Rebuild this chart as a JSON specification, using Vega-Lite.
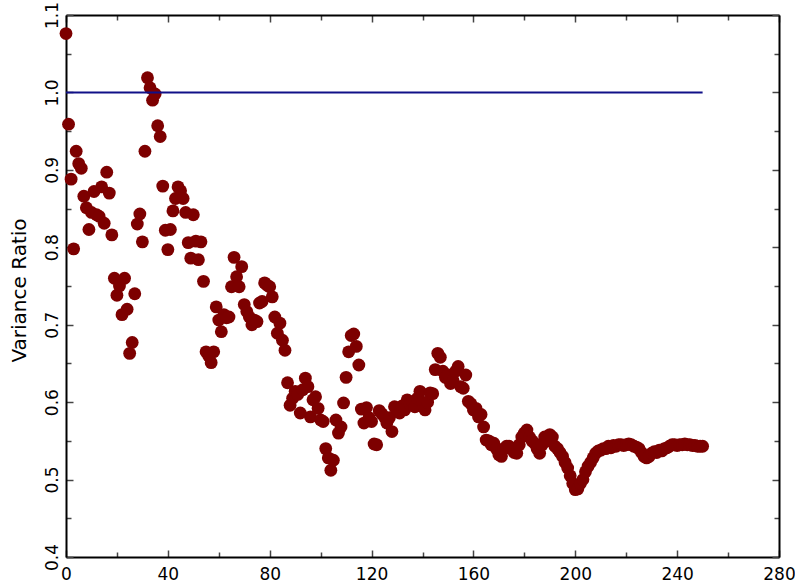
{
  "$schema": "https://vega.github.io/schema/vega-lite/v6.json",
  "width": 713,
  "height": 542,
  "autosize": {"type": "none"},
  "padding": {"left": 66, "top": 15, "right": 16, "bottom": 26},
  "background": "white",
  "config": {
    "view": {"stroke": null},
    "axis": {
      "grid": false,
      "domainColor": "black",
      "domainWidth": 2,
      "tickColor": "#444444",
      "tickWidth": 1.5,
      "labelFont": "DejaVu Sans",
      "labelFontSize": 17,
      "labelColor": "black",
      "titleFont": "DejaVu Sans",
      "titleFontSize": 20,
      "titleFontWeight": "normal",
      "titleColor": "black",
      "labelFlush": false,
      "labelOverlap": false
    }
  },
  "datasets": {
    "ratio": [
      {"n":0,"v":1.076},{"n":1,"v":0.959},{"n":2,"v":0.888},{"n":3,"v":0.798},{"n":4,"v":0.924},
      {"n":5,"v":0.908},{"n":6,"v":0.902},{"n":7,"v":0.866},{"n":8,"v":0.851},{"n":9,"v":0.823},
      {"n":10,"v":0.845},{"n":11,"v":0.872},{"n":12,"v":0.842},{"n":13,"v":0.840},{"n":14,"v":0.878},
      {"n":15,"v":0.831},{"n":16,"v":0.897},{"n":17,"v":0.870},{"n":18,"v":0.816},{"n":19,"v":0.760},
      {"n":20,"v":0.738},{"n":21,"v":0.750},{"n":22,"v":0.713},{"n":23,"v":0.760},{"n":24,"v":0.720},
      {"n":25,"v":0.663},{"n":26,"v":0.677},{"n":27,"v":0.740},{"n":28,"v":0.830},{"n":29,"v":0.843},
      {"n":30,"v":0.807},{"n":31,"v":0.924},{"n":32,"v":1.019},{"n":33,"v":1.006},{"n":34,"v":0.990},
      {"n":35,"v":0.998},{"n":36,"v":0.957},{"n":37,"v":0.943},{"n":38,"v":0.879},{"n":39,"v":0.822},
      {"n":40,"v":0.797},{"n":41,"v":0.823},{"n":42,"v":0.847},{"n":43,"v":0.863},{"n":44,"v":0.878},
      {"n":45,"v":0.873},{"n":46,"v":0.863},{"n":47,"v":0.845},{"n":48,"v":0.806},{"n":49,"v":0.786},
      {"n":50,"v":0.842},{"n":51,"v":0.808},{"n":52,"v":0.784},{"n":53,"v":0.807},{"n":54,"v":0.756},
      {"n":55,"v":0.665},{"n":56,"v":0.660},{"n":57,"v":0.651},{"n":58,"v":0.665},{"n":59,"v":0.723},
      {"n":60,"v":0.706},{"n":61,"v":0.691},{"n":62,"v":0.713},{"n":63,"v":0.709},{"n":64,"v":0.710},
      {"n":65,"v":0.749},{"n":66,"v":0.787},{"n":67,"v":0.762},{"n":68,"v":0.749},{"n":69,"v":0.775},
      {"n":70,"v":0.726},{"n":71,"v":0.717},{"n":72,"v":0.710},{"n":73,"v":0.700},{"n":74,"v":0.706},
      {"n":75,"v":0.704},{"n":76,"v":0.728},{"n":77,"v":0.730},{"n":78,"v":0.754},{"n":79,"v":0.751},
      {"n":80,"v":0.749},{"n":81,"v":0.736},{"n":82,"v":0.710},{"n":83,"v":0.689},{"n":84,"v":0.702},
      {"n":85,"v":0.680},{"n":86,"v":0.667},{"n":87,"v":0.625},{"n":88,"v":0.596},{"n":89,"v":0.605},
      {"n":90,"v":0.614},{"n":91,"v":0.610},{"n":92,"v":0.586},{"n":93,"v":0.616},{"n":94,"v":0.631},
      {"n":95,"v":0.620},{"n":96,"v":0.581},{"n":97,"v":0.603},{"n":98,"v":0.607},{"n":99,"v":0.592},
      {"n":100,"v":0.577},{"n":101,"v":0.575},{"n":102,"v":0.540},{"n":103,"v":0.528},{"n":104,"v":0.512},
      {"n":105,"v":0.525},{"n":106,"v":0.577},{"n":107,"v":0.560},{"n":108,"v":0.568},{"n":109,"v":0.599},
      {"n":110,"v":0.632},{"n":111,"v":0.665},{"n":112,"v":0.686},{"n":113,"v":0.688},{"n":114,"v":0.672},
      {"n":115,"v":0.648},{"n":116,"v":0.591},{"n":117,"v":0.573},{"n":118,"v":0.593},{"n":119,"v":0.580},
      {"n":120,"v":0.575},{"n":121,"v":0.546},{"n":122,"v":0.545},{"n":123,"v":0.589},{"n":124,"v":0.585},
      {"n":125,"v":0.581},{"n":126,"v":0.573},{"n":127,"v":0.580},{"n":128,"v":0.562},{"n":129,"v":0.594},
      {"n":130,"v":0.590},{"n":131,"v":0.586},{"n":132,"v":0.595},{"n":133,"v":0.590},{"n":134,"v":0.603},
      {"n":135,"v":0.598},{"n":136,"v":0.600},{"n":137,"v":0.594},{"n":138,"v":0.605},{"n":139,"v":0.614},
      {"n":140,"v":0.600},{"n":141,"v":0.590},{"n":142,"v":0.600},{"n":143,"v":0.612},{"n":144,"v":0.611},
      {"n":145,"v":0.642},{"n":146,"v":0.663},{"n":147,"v":0.658},{"n":148,"v":0.640},{"n":149,"v":0.632},
      {"n":150,"v":0.635},{"n":151,"v":0.624},{"n":152,"v":0.628},{"n":153,"v":0.640},{"n":154,"v":0.646},
      {"n":155,"v":0.620},{"n":156,"v":0.618},{"n":157,"v":0.635},{"n":158,"v":0.601},{"n":159,"v":0.598},
      {"n":160,"v":0.590},{"n":161,"v":0.592},{"n":162,"v":0.581},{"n":163,"v":0.584},{"n":164,"v":0.568},
      {"n":165,"v":0.551},{"n":166,"v":0.550},{"n":167,"v":0.545},{"n":168,"v":0.547},{"n":169,"v":0.540},
      {"n":170,"v":0.532},{"n":171,"v":0.530},{"n":172,"v":0.540},{"n":173,"v":0.543},{"n":174,"v":0.543},
      {"n":175,"v":0.540},{"n":176,"v":0.535},{"n":177,"v":0.534},{"n":178,"v":0.545},{"n":179,"v":0.555},
      {"n":180,"v":0.560},{"n":181,"v":0.564},{"n":182,"v":0.555},{"n":183,"v":0.550},{"n":184,"v":0.547},
      {"n":185,"v":0.540},{"n":186,"v":0.534},{"n":187,"v":0.545},{"n":188,"v":0.555},{"n":189,"v":0.550},
      {"n":190,"v":0.558},{"n":191,"v":0.555},{"n":192,"v":0.543},{"n":193,"v":0.540},{"n":194,"v":0.535},
      {"n":195,"v":0.530},{"n":196,"v":0.522},{"n":197,"v":0.515},{"n":198,"v":0.505},{"n":199,"v":0.495},
      {"n":200,"v":0.487},{"n":201,"v":0.488},{"n":202,"v":0.495},{"n":203,"v":0.500},{"n":204,"v":0.510},
      {"n":205,"v":0.517},{"n":206,"v":0.522},{"n":207,"v":0.528},{"n":208,"v":0.534},{"n":209,"v":0.537},
      {"n":210,"v":0.538},{"n":211,"v":0.540},{"n":212,"v":0.540},{"n":213,"v":0.543},{"n":214,"v":0.541},
      {"n":215,"v":0.544},{"n":216,"v":0.543},{"n":217,"v":0.545},{"n":218,"v":0.545},{"n":219,"v":0.544},
      {"n":220,"v":0.545},{"n":221,"v":0.546},{"n":222,"v":0.545},{"n":223,"v":0.543},{"n":224,"v":0.542},
      {"n":225,"v":0.540},{"n":226,"v":0.535},{"n":227,"v":0.530},{"n":228,"v":0.528},{"n":229,"v":0.530},
      {"n":230,"v":0.534},{"n":231,"v":0.536},{"n":232,"v":0.535},{"n":233,"v":0.538},{"n":234,"v":0.537},
      {"n":235,"v":0.540},{"n":236,"v":0.541},{"n":237,"v":0.543},{"n":238,"v":0.545},{"n":239,"v":0.545},
      {"n":240,"v":0.544},{"n":241,"v":0.545},{"n":242,"v":0.545},{"n":243,"v":0.546},{"n":244,"v":0.545},
      {"n":245,"v":0.545},{"n":246,"v":0.544},{"n":247,"v":0.544},{"n":248,"v":0.543},{"n":249,"v":0.543},
      {"n":250,"v":0.543}
    ],
    "unity": [
      {"n": 0, "v": 1.0},
      {"n": 250, "v": 1.0}
    ]
  },
  "layer": [
    {
      "data": {"name": "ratio"},
      "mark": {"type": "circle", "size": 165, "color": "#7d0000", "opacity": 1},
      "encoding": {
        "x": {
          "field": "n",
          "type": "quantitative",
          "scale": {"domain": [0, 280], "nice": false, "zero": false},
          "axis": {
            "orient": "bottom",
            "title": null,
            "values": [0,20,40,60,80,100,120,140,160,180,200,220,240,260,280],
            "tickSize": {"condition": {"test": "datum.value % 40 === 0", "value": -7}, "value": -5},
            "labelPadding": 16,
            "labelBaseline": "top",
            "labelExpr": "datum.value % 40 === 0 ? datum.label : ''"
          }
        },
        "y": {
          "field": "v",
          "type": "quantitative",
          "scale": {"domain": [0.4, 1.1], "nice": false, "zero": false},
          "axis": {
            "orient": "left",
            "title": "Variance Ratio",
            "values": [0.4,0.45,0.5,0.55,0.6,0.65,0.7,0.75,0.8,0.85,0.9,0.95,1.0,1.05,1.1],
            "tickSize": {"condition": {"test": "round(datum.value*20) % 2 === 0", "value": -7}, "value": -5},
            "labelPadding": 16,
            "labelAngle": 270,
            "labelAlign": "center",
            "labelBaseline": "alphabetic",
            "labelExpr": "round(datum.value*20) % 2 === 0 ? format(datum.value, '.1f') : ''",
            "titleAngle": 270,
            "titleAlign": "center",
            "titleBaseline": "alphabetic",
            "titleX": -41,
            "titleY": 275
          }
        }
      }
    },
    {
      "data": {"name": "unity"},
      "mark": {"type": "line", "color": "#101088", "strokeWidth": 2},
      "encoding": {
        "x": {
          "field": "n",
          "type": "quantitative",
          "axis": {
            "orient": "top",
            "title": null,
            "labels": false,
            "values": [0,20,40,60,80,100,120,140,160,180,200,220,240,260,280],
            "tickSize": {"condition": {"test": "datum.value % 40 === 0", "value": -7}, "value": -5}
          }
        },
        "y": {
          "field": "v",
          "type": "quantitative",
          "axis": {
            "orient": "right",
            "title": null,
            "labels": false,
            "values": [0.4,0.45,0.5,0.55,0.6,0.65,0.7,0.75,0.8,0.85,0.9,0.95,1.0,1.05,1.1],
            "tickSize": {"condition": {"test": "round(datum.value*20) % 2 === 0", "value": -7}, "value": -5}
          }
        }
      }
    }
  ],
  "resolve": {"axis": {"x": "independent", "y": "independent"}}
}
